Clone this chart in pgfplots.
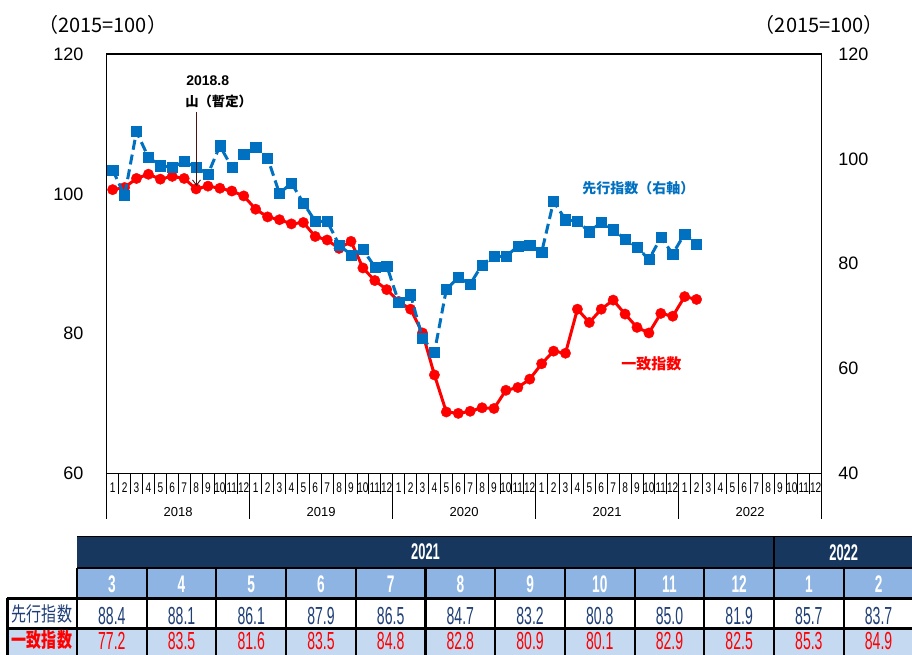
\documentclass[border=0pt]{standalone}
\usepackage{fontspec}
\usepackage{pgfplots}
\pgfplotsset{compat=1.18}
\usetikzlibrary{arrows.meta}
\setmainfont{Liberation Sans}
\newfontfamily\jp{Noto Sans CJK JP}
\newfontfamily\jpc[FakeStretch=0.75]{Noto Sans CJK JP}
\newfontfamily\cond[FakeStretch=0.57]{Liberation Sans}
\newfontfamily\mcond[FakeStretch=0.72]{Liberation Sans}
\definecolor{lblue}{HTML}{0070C0}
\definecolor{navy}{HTML}{17375E}
\definecolor{hblue}{HTML}{8DB4E2}
\definecolor{rblue}{HTML}{C5D9F1}
\definecolor{ntext}{HTML}{1F3F76}
\definecolor{arrowc}{HTML}{4A1414}
\begin{document}
\begin{tikzpicture}
\useasboundingbox (0pt,0pt) rectangle (684pt,-491.25pt);
% coincident (left axis)
\begin{axis}[
  at={(80.025pt,-355.125pt)}, anchor=south west,
  width=536.25pt, height=314.625pt, scale only axis,
  xmin=0, xmax=60, ymin=60, ymax=120,
  ytick={60,80,100,120},
  major tick length=0pt,
  xtick pos=left, ytick pos=left,
  /pgf/number format/assume math mode=true,
  yticklabel style={font=\fontsize{13.5}{14}\selectfont, xshift=-14pt},
  xtick={0.5,1.5,2.5,3.5,4.5,5.5,6.5,7.5,8.5,9.5,10.5,11.5,12.5,13.5,14.5,15.5,16.5,17.5,18.5,19.5,20.5,21.5,22.5,23.5,24.5,25.5,26.5,27.5,28.5,29.5,30.5,31.5,32.5,33.5,34.5,35.5,36.5,37.5,38.5,39.5,40.5,41.5,42.5,43.5,44.5,45.5,46.5,47.5,48.5,49.5,50.5,51.5,52.5,53.5,54.5,55.5,56.5,57.5,58.5,59.5},
  xticklabels={1,2,3,4,5,6,7,8,9,10,11,12,1,2,3,4,5,6,7,8,9,10,11,12,1,2,3,4,5,6,7,8,9,10,11,12,1,2,3,4,5,6,7,8,9,10,11,12,1,2,3,4,5,6,7,8,9,10,11,12},
  xticklabel style={font=\mcond\fontsize{10.5}{11}\selectfont, anchor=center, yshift=-10.9pt},
  extra x ticks={1,2,3,4,5,6,7,8,9,10,11,13,14,15,16,17,18,19,20,21,22,23,25,26,27,28,29,30,31,32,33,34,35,37,38,39,40,41,42,43,44,45,46,47,49,50,51,52,53,54,55,56,57,58,59},
  extra x tick labels={},
  extra x tick style={major tick length=15pt, tick align=outside, xtick pos=left, tick style={black, line width=0.6pt}},
  axis line style={line width=0.75pt},
  clip=false,
]
\addplot[red, line width=2.25pt, mark=*, mark size=3.9pt, mark options={solid, fill=red, draw=red, line width=0.3pt}] coordinates {
(0.5,100.6)(1.5,100.9)(2.5,102.2)(3.5,102.8)(4.5,102.1)(5.5,102.5)(6.5,102.2)(7.5,100.7)(8.5,101.1)(9.5,100.8)(10.5,100.4)(11.5,99.7)
(12.5,97.8)(13.5,96.7)(14.5,96.3)(15.5,95.7)(16.5,95.9)(17.5,93.9)(18.5,93.4)(19.5,92.2)(20.5,93.2)(21.5,89.4)(22.5,87.6)(23.5,86.3)
(24.5,84.6)(25.5,83.5)(26.5,80.1)(27.5,74.1)(28.5,68.8)(29.5,68.6)(30.5,68.9)(31.5,69.4)(32.5,69.3)(33.5,71.9)(34.5,72.3)(35.5,73.5)
(36.5,75.7)(37.5,77.5)(38.5,77.2)(39.5,83.5)(40.5,81.6)(41.5,83.5)(42.5,84.8)(43.5,82.8)(44.5,80.9)(45.5,80.1)(46.5,82.9)(47.5,82.5)
(48.5,85.3)(49.5,84.9)};
\end{axis}
% leading (right axis)
\begin{axis}[
  at={(80.025pt,-355.125pt)}, anchor=south west,
  width=536.25pt, height=314.625pt, scale only axis,
  xmin=0, xmax=60, ymin=40, ymax=120,
  axis y line*=right, axis x line*=bottom,
  ytick={40,60,80,100,120},
  major tick length=0pt,
  /pgf/number format/assume math mode=true,
  yticklabel style={font=\fontsize{13.5}{14}\selectfont, xshift=9pt},
  xtick={6,18,30,42,54},
  xticklabels={2018,2019,2020,2021,2022},
  xticklabel style={font=\fontsize{9.75}{10}\selectfont, anchor=center, yshift=-28.9pt},
  extra x ticks={0,12,24,36,48,60},
  extra x tick labels={},
  extra x tick style={major tick length=33.75pt, tick align=outside, tick style={black, line width=0.6pt}},
  axis line style={line width=0.75pt},
  clip=false,
]
\addplot[lblue, line width=2.25pt, dash pattern=on 7.5pt off 3.75pt, mark=square*, mark size=3.8pt, mark options={solid, fill=lblue, draw=lblue, line width=0.3pt}] coordinates {
(0.5,97.9)(1.5,93.0)(2.5,105.2)(3.5,100.3)(4.5,98.7)(5.5,98.4)(6.5,99.5)(7.5,98.4)(8.5,97.1)(9.5,102.5)(10.5,98.4)(11.5,100.9)
(12.5,102.2)(13.5,100.2)(14.5,93.4)(15.5,95.4)(16.5,91.6)(17.5,88.1)(18.5,88.1)(19.5,83.6)(20.5,81.7)(21.5,82.7)(22.5,79.4)(23.5,79.6)
(24.5,72.7)(25.5,74.1)(26.5,65.8)(27.5,63.1)(28.5,75.1)(29.5,77.4)(30.5,76.1)(31.5,79.8)(32.5,81.4)(33.5,81.4)(34.5,83.3)(35.5,83.6)
(36.5,82.2)(37.5,91.9)(38.5,88.4)(39.5,88.1)(40.5,86.1)(41.5,87.9)(42.5,86.5)(43.5,84.7)(44.5,83.2)(45.5,80.8)(46.5,85.0)(47.5,81.9)
(48.5,85.7)(49.5,83.7)};
\end{axis}
\begin{scope}[x=0.75pt,y=-0.75pt]
% unit labels
\node[font=\jp\fontsize{15}{16}\selectfont, anchor=west, inner sep=0pt] at (38,25) {（2015=100）};
\node[font=\jp\fontsize{15}{16}\selectfont, anchor=east, inner sep=0pt] at (884,25) {（2015=100）};
% annotation
\node[font=\bfseries\fontsize{10.5}{11}\selectfont, anchor=west, inner sep=0pt] at (186,81) {2018.8};
\node[font=\jp\bfseries\fontsize{10}{11}\selectfont, anchor=west, inner sep=0pt] at (185,101) {山（暫定）};
\draw[arrowc, line width=0.7pt, -{Straight Barb[length=4pt,width=6pt]}] (196.5,112) -- (196.5,186);
\node[font=\jp\bfseries\fontsize{10.5}{11}\selectfont, text=lblue, anchor=west, inner sep=0pt] at (582,188) {先行指数（右軸）};
\node[font=\jp\bfseries\fontsize{11.25}{12}\selectfont, text=red, anchor=west, inner sep=0pt] at (621,364) {一致指数};
% table
\fill[navy] (77,536.5) rectangle (915,568);
\fill[hblue] (77,568) rectangle (915,598.3);
\fill[white] (7,598.3) rectangle (915,628.5);
\fill[rblue] (7,628.5) rectangle (915,658);
\draw[black, line width=1.5pt] (77,568) -- (915,568);
\draw[black, line width=2pt] (7,598.3) -- (915,598.3);
\draw[black, line width=2pt] (7,628.5) -- (915,628.5);
\draw[black, line width=2pt] (7.3,598.3) -- (7.3,658);
\draw[black, line width=1pt] (77,536.5) -- (915,536.5);
\draw[black, line width=2pt] (774,536.5) -- (774,568);
\foreach \k in {0,...,12} {
  \draw[black, line width=1.6pt] ({77+69.7*\k},568) -- ({77+69.7*\k},658);
}
\node[font=\cond\bfseries\fontsize{17}{18}\selectfont, text=white] at (425.5,552) {2021};
\node[font=\cond\bfseries\fontsize{17}{18}\selectfont, text=white] at (843.7,553) {2022};
\foreach \m/\a/\b [count=\j from 0] in {3/88.4/77.2,4/88.1/83.5,5/86.1/81.6,6/87.9/83.5,7/86.5/84.8,8/84.7/82.8,9/83.2/80.9,10/80.8/80.1,11/85.0/82.9,12/81.9/82.5,1/85.7/85.3,2/83.7/84.9} {
  \node[font=\cond\bfseries\fontsize{18}{19}\selectfont, text=white] at ({111.85+69.7*\j},584) {\m};
  \node[font=\cond\fontsize{18.5}{19}\selectfont, text=ntext] at ({111.85+69.7*\j},616) {\a};
  \node[font=\cond\fontsize{18.5}{19}\selectfont, text=red] at ({111.85+69.7*\j},641) {\b};
}
\node[font=\jpc\fontsize{15}{16}\selectfont, text=ntext] at (42,614) {先行指数};
\node[font=\jpc\bfseries\fontsize{15}{16}\selectfont, text=red] at (42,640) {一致指数};
\end{scope}
\end{tikzpicture}
\end{document}
